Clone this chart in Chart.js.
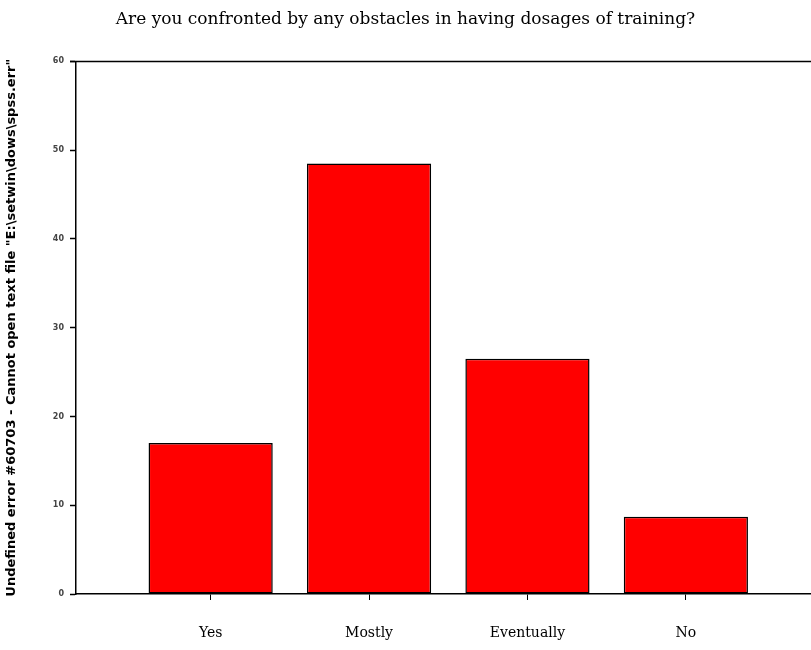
<!DOCTYPE html>
<html>
<head>
<meta charset="utf-8">
<script src="https://cdn.jsdelivr.net/npm/chart.js@4/dist/chart.umd.min.js"></script>
<style>
  html, body { margin: 0; padding: 0; background: #fff; }
  #wrap { width: 811px; height: 650px; }
</style>
</head>
<body>
<div id="wrap"><canvas id="chart"></canvas></div>
<script>
// data
const categories = ["Yes", "Mostly", "Eventually", "No"];
const percents = [17.0, 48.5, 26.5, 8.7];
const yTicks = [0, 10, 20, 30, 40, 50, 60];

const titleText = "Are you confronted by any obstacles in having dosages of training?";
const yTitle = 'Undefined error #60703 - Cannot open text file "E:\\setwin\\dows\\spss.err"';

// bars sit on a linear x scale so the spacing matches the original
const points = [];
for (let i = 0; i < categories.length; i++) {
    points.push({ x: i + 1, y: percents[i] });
}

// top frame line
const topLine = {
    id: 'topLine',
    afterDraw(chart) {
        const a = chart.chartArea;
        const ctx = chart.ctx;
        ctx.save();
        ctx.strokeStyle = '#000';
        ctx.lineWidth = 1.5;
        ctx.beginPath();
        ctx.moveTo(a.left - 6, a.top);
        ctx.lineTo(a.right, a.top);
        ctx.stroke();
        ctx.restore();
    }
};

const config = {
    type: 'bar',
    data: {
        datasets: [{
            data: points,
            backgroundColor: '#ff0000',
            borderColor: '#000',
            borderWidth: 1.5,
            borderSkipped: false,
            barPercentage: 0.98,
            categoryPercentage: 0.8
        }]
    },
    options: {
        responsive: true,
        maintainAspectRatio: false,
        animation: false,
        layout: { padding: { left: 0, right: 0, top: 0, bottom: 0 } },
        plugins: {
            legend: { display: false },
            tooltip: { enabled: false },
            title: {
                display: true,
                text: titleText,
                color: '#000',
                font: { family: 'DejaVu Serif', size: 17, weight: 'normal' },
                padding: { top: 9, bottom: 32 }
            }
        },
        scales: {
            x: {
                type: 'linear',
                offset: false,
                min: 0.15,
                max: 4.79,
                afterBuildTicks: scale => {
                    scale.ticks = categories.map((c, i) => ({ value: i + 1 }));
                },
                afterFit: scale => { scale.height = 56; },
                ticks: {
                    autoSkip: false,
                    maxRotation: 0,
                    padding: 25,
                    color: '#000',
                    font: { family: 'DejaVu Serif', size: 14 },
                    callback: v => categories[v - 1]
                },
                grid: { offset: false, drawOnChartArea: false, tickLength: 6, color: '#000', tickWidth: 1 },
                border: { color: '#000', width: 1.5 }
            },
            y: {
                min: 0,
                max: 60,
                afterBuildTicks: scale => {
                    scale.ticks = yTicks.map(v => ({ value: v }));
                },
                afterFit: scale => { scale.width = 76; },
                ticks: {
                    padding: 6,
                    color: '#444',
                    font: { family: 'DejaVu Sans', size: 8, weight: 'bold' }
                },
                grid: { drawOnChartArea: false, tickLength: 6, color: '#000', tickWidth: 1.5 },
                border: { color: '#000', width: 1.5 },
                title: {
                    display: true,
                    text: yTitle,
                    color: '#000',
                    padding: { top: 4, bottom: 2 },
                    font: { family: 'DejaVu Sans', size: 13, weight: 'bold' }
                }
            }
        }
    },
    plugins: [topLine]
};

const ctx = document.getElementById('chart').getContext('2d');
const myChart = new Chart(ctx, config);
</script>
</body>
</html>
